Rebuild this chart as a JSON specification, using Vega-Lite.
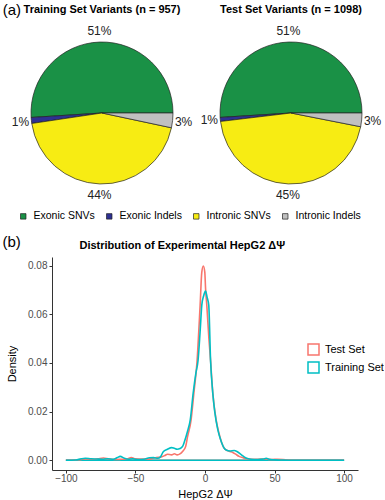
{
  "$schema": "https://vega.github.io/schema/vega-lite/v6.json",
  "padding": {"left": 2, "top": 3, "right": 0, "bottom": 2},
  "config": {
    "font": "Liberation Sans",
    "view": {"stroke": null},
    "title": {"font": "Liberation Sans", "color": "black"}
  },
  "datasets": {
    "train": [
      {"cat": "Exonic SNVs", "pct": 0.51, "k": 1},
      {"cat": "Exonic Indels", "pct": 0.0136, "k": 2},
      {"cat": "Intronic SNVs", "pct": 0.443, "k": 3},
      {"cat": "Intronic Indels", "pct": 0.0334, "k": 4}
    ],
    "test": [
      {"cat": "Exonic SNVs", "pct": 0.51, "k": 1},
      {"cat": "Exonic Indels", "pct": 0.0091, "k": 2},
      {"cat": "Intronic SNVs", "pct": 0.45, "k": 3},
      {"cat": "Intronic Indels", "pct": 0.031, "k": 4}
    ],
    "baseline": [
      {"set": "Test Set", "from": -100, "to": 100, "level": 0},
      {"set": "Training Set", "from": -100, "to": 100, "level": 0}
    ],
    "density": [
      {"set": "Test Set", "x": -100, "d": 0},
      {"set": "Test Set", "x": -92, "d": 0.0001},
      {"set": "Test Set", "x": -88, "d": 0.0004},
      {"set": "Test Set", "x": -85, "d": 0.0005},
      {"set": "Test Set", "x": -81, "d": 0.0004},
      {"set": "Test Set", "x": -77, "d": 0.0006},
      {"set": "Test Set", "x": -73, "d": 0.0009},
      {"set": "Test Set", "x": -69, "d": 0.0005},
      {"set": "Test Set", "x": -65, "d": 0.0003},
      {"set": "Test Set", "x": -60, "d": 0.0004},
      {"set": "Test Set", "x": -56, "d": 0.0005},
      {"set": "Test Set", "x": -53, "d": 0.0011},
      {"set": "Test Set", "x": -50, "d": 0.0006},
      {"set": "Test Set", "x": -46, "d": 0.0005},
      {"set": "Test Set", "x": -42, "d": 0.0004},
      {"set": "Test Set", "x": -38, "d": 0.0007},
      {"set": "Test Set", "x": -35, "d": 0.0011},
      {"set": "Test Set", "x": -32, "d": 0.0013},
      {"set": "Test Set", "x": -29, "d": 0.0019},
      {"set": "Test Set", "x": -27, "d": 0.0025},
      {"set": "Test Set", "x": -24, "d": 0.0022},
      {"set": "Test Set", "x": -22, "d": 0.0027},
      {"set": "Test Set", "x": -20, "d": 0.0022},
      {"set": "Test Set", "x": -18, "d": 0.0026},
      {"set": "Test Set", "x": -16, "d": 0.0037},
      {"set": "Test Set", "x": -14, "d": 0.0055},
      {"set": "Test Set", "x": -12.5, "d": 0.0098},
      {"set": "Test Set", "x": -10, "d": 0.0166},
      {"set": "Test Set", "x": -8, "d": 0.0276},
      {"set": "Test Set", "x": -5.8, "d": 0.04},
      {"set": "Test Set", "x": -3.5, "d": 0.0637},
      {"set": "Test Set", "x": -2.3, "d": 0.0773},
      {"set": "Test Set", "x": -1.2, "d": 0.0798},
      {"set": "Test Set", "x": -0.15, "d": 0.0773},
      {"set": "Test Set", "x": 0.4, "d": 0.0706},
      {"set": "Test Set", "x": 1.3, "d": 0.0637},
      {"set": "Test Set", "x": 2.8, "d": 0.05},
      {"set": "Test Set", "x": 4, "d": 0.041},
      {"set": "Test Set", "x": 5.6, "d": 0.0276},
      {"set": "Test Set", "x": 8, "d": 0.0166},
      {"set": "Test Set", "x": 10, "d": 0.0112},
      {"set": "Test Set", "x": 12, "d": 0.0072},
      {"set": "Test Set", "x": 14, "d": 0.0048},
      {"set": "Test Set", "x": 16, "d": 0.004},
      {"set": "Test Set", "x": 18, "d": 0.0036},
      {"set": "Test Set", "x": 20, "d": 0.0032},
      {"set": "Test Set", "x": 22, "d": 0.0025},
      {"set": "Test Set", "x": 24.5, "d": 0.0016},
      {"set": "Test Set", "x": 27, "d": 0.0011},
      {"set": "Test Set", "x": 30, "d": 0.0006},
      {"set": "Test Set", "x": 34, "d": 0.0004},
      {"set": "Test Set", "x": 38, "d": 0.0004},
      {"set": "Test Set", "x": 42, "d": 0.0005},
      {"set": "Test Set", "x": 45, "d": 0.0004},
      {"set": "Test Set", "x": 48, "d": 0.0003},
      {"set": "Test Set", "x": 52, "d": 0.0004},
      {"set": "Test Set", "x": 56, "d": 0.0003},
      {"set": "Test Set", "x": 60, "d": 0.0001},
      {"set": "Test Set", "x": 64, "d": 0},
      {"set": "Test Set", "x": 100, "d": 0},
      {"set": "Training Set", "x": -100, "d": 0},
      {"set": "Training Set", "x": -93, "d": 0.0001},
      {"set": "Training Set", "x": -89, "d": 0.0006},
      {"set": "Training Set", "x": -86, "d": 0.0008},
      {"set": "Training Set", "x": -82, "d": 0.0006},
      {"set": "Training Set", "x": -78, "d": 0.0005},
      {"set": "Training Set", "x": -74, "d": 0.0004},
      {"set": "Training Set", "x": -70, "d": 0.0006},
      {"set": "Training Set", "x": -66, "d": 0.0004},
      {"set": "Training Set", "x": -63, "d": 0.0011},
      {"set": "Training Set", "x": -61, "d": 0.0016},
      {"set": "Training Set", "x": -58, "d": 0.0008},
      {"set": "Training Set", "x": -55, "d": 0.0004},
      {"set": "Training Set", "x": -52, "d": 0.0006},
      {"set": "Training Set", "x": -48, "d": 0.0003},
      {"set": "Training Set", "x": -44, "d": 0.0004},
      {"set": "Training Set", "x": -40, "d": 0.001},
      {"set": "Training Set", "x": -37, "d": 0.0011},
      {"set": "Training Set", "x": -34, "d": 0.0008},
      {"set": "Training Set", "x": -32, "d": 0.0014},
      {"set": "Training Set", "x": -30, "d": 0.0035},
      {"set": "Training Set", "x": -27, "d": 0.0045},
      {"set": "Training Set", "x": -24, "d": 0.0052},
      {"set": "Training Set", "x": -22, "d": 0.0049},
      {"set": "Training Set", "x": -20, "d": 0.0045},
      {"set": "Training Set", "x": -18, "d": 0.0048},
      {"set": "Training Set", "x": -16, "d": 0.0058},
      {"set": "Training Set", "x": -14.7, "d": 0.0078},
      {"set": "Training Set", "x": -12.5, "d": 0.012},
      {"set": "Training Set", "x": -10.6, "d": 0.0166},
      {"set": "Training Set", "x": -8.5, "d": 0.0276},
      {"set": "Training Set", "x": -6.5, "d": 0.036},
      {"set": "Training Set", "x": -5, "d": 0.041},
      {"set": "Training Set", "x": -3.5, "d": 0.053},
      {"set": "Training Set", "x": -2.3, "d": 0.0637},
      {"set": "Training Set", "x": -1, "d": 0.0675},
      {"set": "Training Set", "x": 0.4, "d": 0.0695},
      {"set": "Training Set", "x": 1.5, "d": 0.067},
      {"set": "Training Set", "x": 2.7, "d": 0.0637},
      {"set": "Training Set", "x": 4, "d": 0.041},
      {"set": "Training Set", "x": 5.6, "d": 0.0276},
      {"set": "Training Set", "x": 7, "d": 0.02},
      {"set": "Training Set", "x": 9.2, "d": 0.0126},
      {"set": "Training Set", "x": 11.6, "d": 0.0078},
      {"set": "Training Set", "x": 13.5, "d": 0.0052},
      {"set": "Training Set", "x": 15.2, "d": 0.0042},
      {"set": "Training Set", "x": 18, "d": 0.0038},
      {"set": "Training Set", "x": 21, "d": 0.004},
      {"set": "Training Set", "x": 23, "d": 0.0036},
      {"set": "Training Set", "x": 26, "d": 0.0023},
      {"set": "Training Set", "x": 29.5, "d": 0.0009},
      {"set": "Training Set", "x": 33, "d": 0.0004},
      {"set": "Training Set", "x": 38, "d": 0.0003},
      {"set": "Training Set", "x": 42, "d": 0.0005},
      {"set": "Training Set", "x": 44, "d": 0.0008},
      {"set": "Training Set", "x": 46, "d": 0.0004},
      {"set": "Training Set", "x": 50, "d": 0.0002},
      {"set": "Training Set", "x": 55, "d": 0.0001},
      {"set": "Training Set", "x": 60, "d": 0},
      {"set": "Training Set", "x": 100, "d": 0}
    ]
  },
  "resolve": {"scale": {"color": "independent"}, "legend": {"color": "independent"}},
  "spacing": 13,
  "vconcat": [
    {
      "title": {"text": "(a)", "anchor": "start", "frame": "bounds", "fontSize": 15, "fontWeight": "normal", "dx": -9, "dy": 14, "offset": 0},
      "spacing": 89,
      "bounds": "flush",
      "resolve": {"scale": {"theta": "independent"}},
      "hconcat": [
        {
          "data": {"name": "train"},
          "width": 100,
          "height": 142,
          "title": {"text": "Training Set Variants (n = 957)", "fontSize": 11, "fontWeight": "bold", "offset": 10},
          "layer": [
            {
              "mark": {"type": "arc", "radius": 71, "stroke": "#222", "strokeWidth": 0.7},
              "encoding": {
                "theta": {"field": "pct", "type": "quantitative", "stack": true, "scale": {"range": [1.5708, 7.854]}},
                "order": {"field": "k", "sort": "descending"},
                "color": {
                  "field": "cat", "type": "nominal",
                  "scale": {"domain": ["Exonic SNVs", "Exonic Indels", "Intronic SNVs", "Intronic Indels"], "range": ["#1A9146", "#2E3192", "#F7EC13", "#C0C0C0"]},
                  "legend": {"orient": "none", "direction": "horizontal", "legendX": -34, "legendY": 169, "title": null, "symbolType": "square", "symbolSize": 30, "symbolStrokeColor": "#222", "symbolStrokeWidth": 0.7, "labelFontSize": 10.5, "labelColor": "black", "columnPadding": 9, "labelOffset": 5}
                }
              }
            },
            {
              "mark": {"type": "text", "radius": 82, "fontSize": 12, "color": "#222"},
              "encoding": {
                "theta": {"field": "pct", "type": "quantitative", "stack": true, "scale": {"range": [1.5708, 7.854]}},
                "order": {"field": "k", "sort": "descending"},
                "text": {"field": "pct", "type": "quantitative", "format": ".0%"}
              }
            }
          ]
        },
        {
          "data": {"name": "test"},
          "width": 100,
          "height": 142,
          "title": {"text": "Test Set Variants (n = 1098)", "fontSize": 11, "fontWeight": "bold", "offset": 10},
          "layer": [
            {
              "mark": {"type": "arc", "radius": 71, "stroke": "#222", "strokeWidth": 0.7},
              "encoding": {
                "theta": {"field": "pct", "type": "quantitative", "stack": true, "scale": {"range": [1.5708, 7.854]}},
                "order": {"field": "k", "sort": "descending"},
                "color": {"field": "cat", "type": "nominal"}
              }
            },
            {
              "mark": {"type": "text", "radius": 82, "fontSize": 12, "color": "#222"},
              "encoding": {
                "theta": {"field": "pct", "type": "quantitative", "stack": true, "scale": {"range": [1.5708, 7.854]}},
                "order": {"field": "k", "sort": "descending"},
                "text": {"field": "pct", "type": "quantitative", "format": ".0%"}
              }
            }
          ]
        }
      ]
    },
    {
      "title": {"text": "(b)", "anchor": "start", "frame": "bounds", "fontSize": 15, "fontWeight": "normal", "dx": -4, "dy": 10, "offset": 0},
      "vconcat": [
        {
          "width": 306,
          "height": 213,
          "title": {"text": "Distribution of Experimental HepG2 ΔΨ", "fontSize": 11, "fontWeight": "bold", "offset": 6, "anchor": "middle", "frame": "bounds"},
          "layer": [
            {
              "data": {"name": "baseline"},
              "mark": {"type": "rule", "strokeWidth": 1.6},
              "encoding": {
                "x": {"field": "from", "type": "quantitative"},
                "x2": {"field": "to"},
                "y": {"field": "level", "type": "quantitative"},
                "color": {"field": "set", "type": "nominal"}
              }
            },
            {
              "data": {"name": "density"},
              "mark": {"type": "line", "strokeWidth": 1.6, "interpolate": "monotone"},
              "encoding": {
                "x": {
                  "field": "x", "type": "quantitative",
                  "scale": {"domain": [-110, 110], "nice": false},
                  "axis": {"values": [-100, -50, 0, 50, 100], "title": "HepG2 ΔΨ", "grid": false, "domainColor": "#333", "tickColor": "#333", "labelColor": "#4D4D4D", "labelFontSize": 10, "titleFontSize": 11, "titleFontWeight": "normal", "titleColor": "black", "tickSize": 3, "labelPadding": 0, "titlePadding": 5}
                },
                "y": {
                  "field": "d", "type": "quantitative",
                  "scale": {"domain": [-0.004, 0.0835], "nice": false, "zero": false},
                  "axis": {"values": [0, 0.02, 0.04, 0.06, 0.08], "format": ".2f", "title": "Density", "grid": false, "domainColor": "#333", "tickColor": "#333", "labelColor": "#4D4D4D", "labelFontSize": 10, "titleFontSize": 11, "titleFontWeight": "normal", "titleColor": "black", "tickSize": 3, "labelPadding": 2, "titlePadding": 10}
                },
                "color": {
                  "field": "set", "type": "nominal",
                  "scale": {"domain": ["Test Set", "Training Set"], "range": ["#F8766D", "#00BFC4"]},
                  "legend": {"orient": "none", "legendX": 255, "legendY": 86, "title": null, "symbolType": "square", "symbolSize": 121, "symbolStrokeWidth": 1.5, "symbolFillColor": "white", "labelFontSize": 11, "labelColor": "black", "labelOffset": 5, "rowPadding": 1}
                }
              }
            }
          ]
        }
      ]
    }
  ]
}
